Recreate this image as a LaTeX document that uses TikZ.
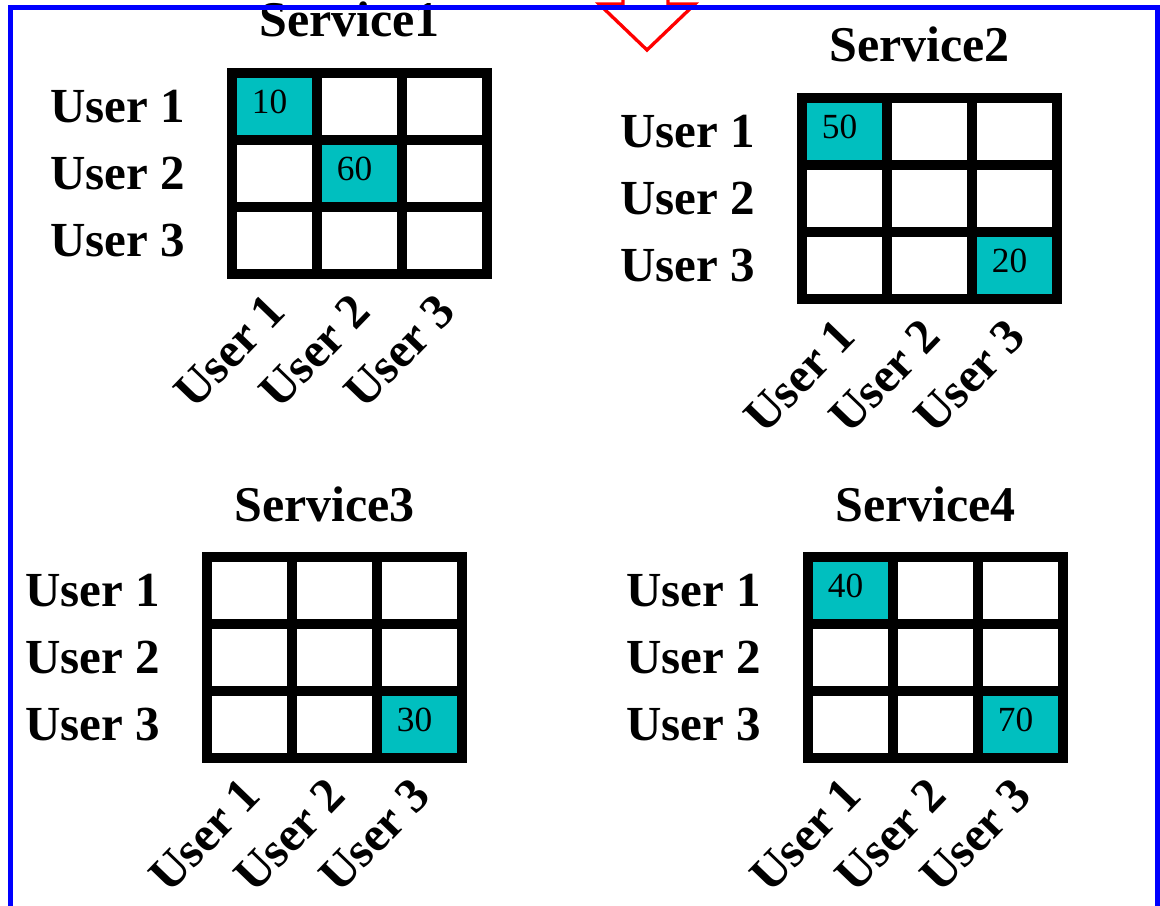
\documentclass[tikz,border=0pt]{standalone}
\usepackage{fontspec}
\setmainfont{Liberation Serif}
\usetikzlibrary{positioning}
\definecolor{cellteal}{HTML}{00BFBF}
\definecolor{frameblue}{HTML}{0000FF}
\definecolor{arrowred}{HTML}{FF0000}
\tikzset{
  cell/.style={draw=black, line width=7.5pt, minimum width=63.75pt,
               minimum height=50.25pt, inner sep=0pt, outer sep=0pt},
  hit/.style={cell, fill=cellteal},
  rowlab/.style={anchor=east, inner sep=0pt,
                 font=\fontsize{36.75}{40}\selectfont\bfseries},
  collab/.style={anchor=north east, rotate=46, inner sep=0pt,
                 font=\fontsize{36.75}{40}\selectfont\bfseries},
  svctitle/.style={anchor=base, inner sep=0pt,
                   font=\fontsize{37.5}{42}\selectfont\bfseries},
  val/.style={inner sep=0pt, font=\fontsize{26.5}{30}\selectfont},
}

\begin{document}
\begin{tikzpicture}[x=0.75pt, y=-0.75pt]
  \useasboundingbox (0,0) rectangle (1160,906);
  \clip (0,0) rectangle (1160,906);
  % hollow arrow coming in from above
  \draw[arrowred, line width=2.5pt, line join=miter]
    (623,-20) -- (623,4) -- (599,4) -- (647,50) -- (695,4) -- (668,4) -- (668,-20);
  % one 3x3 matrix per service
  \foreach \s/\gx/\gy in {1/232/73, 2/802/98, 3/207/557, 4/808/557} {
    \begin{scope}[shift={(\gx,\gy)}]
      \node[svctitle] (title\s) at (117.5,-36) {Service\s};
      \foreach \r in {1,2,3} {
        \node[rowlab] (s\s-row\r) at (-47,{(\r-0.5)*67}) {User \r};
        \foreach \c in {1,2,3}
          \node[cell] (s\s-\r\c) at ({(\c-0.5)*85},{(\r-0.5)*67}) {};
      }
      \foreach \c in {1,2,3}
        \node[collab] (s\s-col\c) at ({(\c-0.5)*85-10},218) {User \c};
    \end{scope}
  }
  % filled entries
  \foreach \cname/\v in {s1-11/10, s1-22/60, s2-11/50, s2-33/20,
                         s3-33/30, s4-11/40, s4-33/70} {
    \node[hit] (hit\v) at (\cname) {};
    \node[val] (val\v) at ([xshift=-3.75pt, yshift=3.75pt]hit\v.center) {\v};
  }
  \draw[frameblue, line width=3.75pt] (10,8) rectangle (1157.5,940);
\end{tikzpicture}
\end{document}
